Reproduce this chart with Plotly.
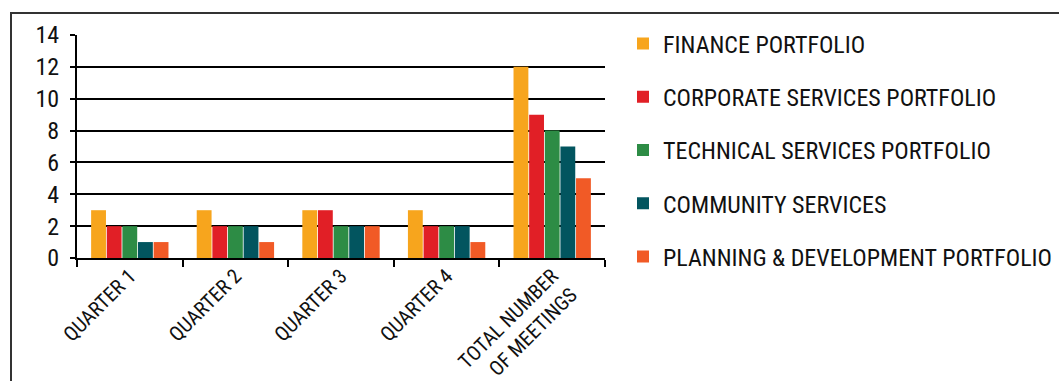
import plotly.graph_objects as go

# Meeting counts per portfolio, by quarter and in total
categories = ["QUARTER 1", "QUARTER 2", "QUARTER 3", "QUARTER 4", "TOTAL NUMBER<br>OF MEETINGS"]
finance = [3, 3, 3, 3, 12]
corporate = [2, 2, 3, 2, 9]
technical = [2, 2, 2, 2, 8]
community = [1, 2, 2, 2, 7]
planning = [1, 1, 2, 1, 5]

series_names = [
    "FINANCE PORTFOLIO",
    "CORPORATE SERVICES PORTFOLIO",
    "TECHNICAL SERVICES PORTFOLIO",
    "COMMUNITY SERVICES",
    "PLANNING & DEVELOPMENT PORTFOLIO",
]
series_values = [finance, corporate, technical, community, planning]
series_colors = ["#F7A51D", "#E11F26", "#2D8C45", "#02555F", "#F15A26"]
y_ticks = [0, 2, 4, 6, 8, 10, 12, 14]

FONT = "Liberation Sans Narrow, Arial Narrow, Roboto Condensed, sans-serif"

W, H = 1059, 381
L, R, T, B = 77, 454, 35, 123

fig = go.Figure()
for i, (name, vals, col) in enumerate(zip(series_names, series_values, series_colors)):
    fig.add_trace(go.Bar(
        x=categories, y=vals, name=name,
        marker=dict(color=col, line=dict(width=0)),
        legendgroup=f"g{i}",
    ))

# outer frame (open at the right and bottom)
pw, ph = W - L - R, H - T - B
def px_x(v):
    return (v - L) / pw
def px_y(v):
    return (H - B - v) / ph

fig.add_shape(type="rect", xref="paper", yref="paper",
              x0=px_x(11), x1=px_x(1200), y0=px_y(600), y1=px_y(13),
              line=dict(color="#333333", width=2), layer="below")

fig.update_layout(
    width=W, height=H,
    margin=dict(l=L, r=R, t=T, b=B, pad=0, autoexpand=False),
    paper_bgcolor="white", plot_bgcolor="white",
    font=dict(family=FONT, size=24, color="#111111"),
    barmode="group", bargap=0.26, bargroupgap=0.05,
    showlegend=True,
    legend=dict(x=px_x(623), y=px_y(21.5), xanchor="left", yanchor="top",
                tracegroupgap=19, font=dict(size=24), maxheight=1.0,
                bgcolor="rgba(0,0,0,0)"),
    xaxis=dict(
        type="category", tickson="boundaries", ticks="outside",
        ticklen=7, tickwidth=2, tickcolor="black",
        showline=True, linecolor="black", linewidth=2, automargin=False,
        showgrid=False, tickangle=-45, tickfont=dict(size=20.5),
        ticklabelstandoff=-4,
    ),
    yaxis=dict(
        range=[0, 14], tickvals=y_ticks, ticks="outside",
        ticklen=5, tickwidth=2, tickcolor="black",
        showline=True, linecolor="black", linewidth=2, automargin=False,
        showgrid=True, gridcolor="black", gridwidth=2,
        zeroline=False, tickfont=dict(size=24), ticklabelstandoff=6,
    ),
)

fig.write_html("out.html")
